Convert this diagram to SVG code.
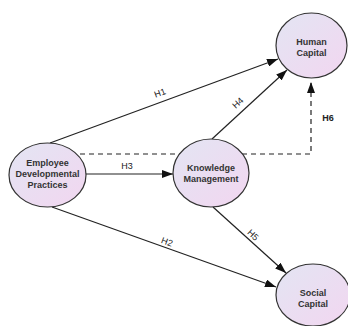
<svg xmlns="http://www.w3.org/2000/svg" width="348" height="326" viewBox="0 0 348 326">
<defs>
<linearGradient id="g" x1="0" y1="0" x2="1" y2="1">
<stop offset="0" stop-color="#e3e5f3"/>
<stop offset="1" stop-color="#f2d6f0"/>
</linearGradient>
<marker id="ah" markerUnits="userSpaceOnUse" markerWidth="11" markerHeight="8" refX="11" refY="4" orient="auto">
<path d="M0,0 L11,4 L0,8 z" fill="#111"/>
</marker>
</defs>
<style>
.node ellipse{fill:url(#g);stroke:#333;stroke-width:1.2}
.node text{font-family:"Liberation Sans",Arial,sans-serif;font-size:9px;font-weight:bold;fill:#333;text-anchor:middle;dominant-baseline:central}
.edge{stroke:#222;stroke-width:1.2;fill:none;marker-end:url(#ah)}
.dash{stroke-dasharray:5,4}
.lbl{font-family:"Liberation Sans",Arial,sans-serif;font-size:9px;fill:#222;text-anchor:middle;dominant-baseline:central}
</style>
<rect width="348" height="326" fill="#fff"/>
<g id="connectors">
<line class="edge" x1="50" y1="143" x2="278" y2="59"/>
<line class="edge" x1="212" y1="139" x2="287" y2="70"/>
<line class="edge" x1="52" y1="207" x2="276" y2="287"/>
<line class="edge" x1="213" y1="207" x2="286" y2="273"/>
<line class="edge" x1="86" y1="174" x2="173" y2="174"/>
<path class="edge dash" d="M80,154 H311 V82"/>
<text class="lbl" transform="translate(160,93) rotate(-20)">H1</text>
<text class="lbl" transform="translate(238,103) rotate(-43)">H4</text>
<text class="lbl" transform="translate(167,242) rotate(20)">H2</text>
<text class="lbl" transform="translate(253,235) rotate(43)">H5</text>
<text class="lbl" x="127" y="166">H3</text>
<text class="lbl" x="328" y="118" font-weight="bold">H6</text>
</g>
<g id="employee" class="node">
<ellipse cx="47.5" cy="175" rx="38.5" ry="32"/>
<text x="47.5" y="163">Employee</text>
<text x="47.5" y="174">Developmental</text>
<text x="47.5" y="185">Practices</text>
</g>
<g id="knowledge" class="node">
<ellipse cx="211" cy="173" rx="38" ry="34"/>
<text x="211" y="168">Knowledge</text>
<text x="211" y="179">Management</text>
</g>
<g id="human" class="node">
<ellipse cx="311.5" cy="45.5" rx="35.5" ry="32.5"/>
<text x="311.5" y="42">Human</text>
<text x="311.5" y="53">Capital</text>
</g>
<g id="social" class="node">
<ellipse cx="313" cy="295" rx="37" ry="31"/>
<text x="313" y="293">Social</text>
<text x="313" y="304">Capital</text>
</g>
</svg>
